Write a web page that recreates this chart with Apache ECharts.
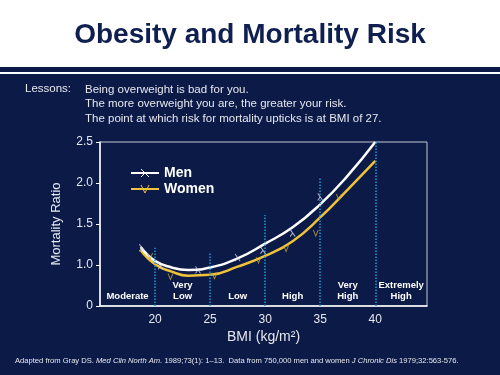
<!DOCTYPE html>
<html>
<head>
<meta charset="utf-8">
<script src="https://cdn.jsdelivr.net/npm/echarts@6/dist/echarts.min.js"></script>
<style>
html, body { margin: 0; padding: 0; background: #0b1a47; }
#main { width: 500px; height: 375px; }
</style>
</head>
<body>
<div id="main"></div>
<script>
// fitted curves (BMI -> mortality ratio)
const bmi = [18.7, 20, 21.5, 23, 25, 27.5, 30, 32.5, 35, 37.5, 40];
const men = [1.22, 1.05, 0.97, 0.94, 0.97, 1.08, 1.26, 1.46, 1.74, 2.09, 2.5];
const women = [1.18, 1.01, 0.92, 0.87, 0.88, 0.98, 1.11, 1.29, 1.58, 1.92, 2.27];

// observed points (small markers)
const menObsX = [18.8, 20.5, 23.9, 27.5, 29.8, 32.5, 35.0];
const menObsY = [1.21, 0.99, 0.94, 1.09, 1.18, 1.39, 1.83];
const womenObsX = [19.55, 21.4, 25.4, 29.4, 31.9, 34.6, 36.7];
const womenObsY = [1.11, 0.86, 0.87, 1.06, 1.20, 1.39, 1.83];

// risk bands
const bandEdges = [15, 20, 25, 30, 35, 40, 44.7];
const bandNames = ['Moderate', 'Very\nLow', 'Low', 'High', 'Very\nHigh', 'Extremely\nHigh'];
const cutoffs = [20, 25, 30, 35, 40];
const cutoffTops = [1.21, 1.15, 1.61, 2.06, 2.5];

const lessons = [
    'Being overweight is bad for you.',
    'The more overweight you are, the greater your risk.',
    'The point at which risk for mortality upticks is at BMI of 27.'
];

const NAVY = '#0b1a47';
const GOLD = '#f0c23a';
const CYAN = '#1c9ad8';
const FONT = '"Liberation Sans", Arial, sans-serif';

const lambdaPath = 'path://M0,0 L5,10 M2.5,5 L0,10';
const vPath = 'path://M0,0 L3,7 L6,0';

const myChart = echarts.init(document.getElementById('main'), null, { renderer: 'canvas' });

const option = {
    backgroundColor: NAVY,
    animation: false,
    textStyle: { fontFamily: FONT },
    graphic: [
        { type: 'rect', left: 0, top: 0, shape: { width: 500, height: 67 }, style: { fill: '#ffffff' }, z: -1 },
        { type: 'rect', left: 0, top: 72, shape: { width: 500, height: 2 }, style: { fill: '#ffffff' }, z: -1 },
        {
            type: 'text', left: 'center', top: 21,
            style: { text: 'Obesity and Mortality Risk', fill: '#0f1f4f', font: 'bold 28px ' + FONT }
        },
        {
            type: 'text', left: 25, top: 83,
            style: { text: 'Lessons:', fill: '#e6e8ee', font: '11.5px ' + FONT }
        },
        {
            type: 'text', left: 85, top: 82,
            style: { text: lessons.join('\n'), fill: '#e6e8ee', font: '11.5px ' + FONT, lineHeight: 14.7 }
        },
        {
            type: 'text', left: 15, top: 357,
            style: {
                text: '{n|Adapted from Gray DS. }{i|Med Clin North Am.}{n| 1989;73(1): 1\u201313.  Data from 750,000 men and women }{i|J Chronic Dis}{n| 1979;32:563-576.}',
                rich: {
                    n: { fill: '#e6e8ee', font: '7.6px ' + FONT },
                    i: { fill: '#e6e8ee', font: 'italic 7.6px ' + FONT }
                }
            }
        }
    ],
    legend: {
        data: [
            { name: 'Men', itemStyle: { color: 'none', borderColor: '#ffffff', borderWidth: 1 } },
            { name: 'Women', itemStyle: { color: 'none', borderColor: GOLD, borderWidth: 1 } }
        ],
        orient: 'vertical',
        left: 125,
        top: 161,
        itemWidth: 28,
        itemHeight: 10,
        itemGap: 2,
        textStyle: { color: '#ffffff', fontWeight: 'bold', fontSize: 14, fontFamily: FONT }
    },
    grid: {
        left: 100, right: 73, top: 142, bottom: 69,
        show: true, borderColor: '#c4c8d4', borderWidth: 1
    },
    xAxis: {
        type: 'value',
        min: 15, max: 44.7, interval: 5,
        name: 'BMI (kg/m\u00b2)',
        nameLocation: 'middle',
        nameGap: 24,
        nameTextStyle: { color: '#e6e8ee', fontSize: 14, fontFamily: FONT },
        axisLine: { show: true, lineStyle: { color: '#ffffff', width: 1.5 } },
        axisTick: { show: false },
        splitLine: { show: false },
        axisLabel: {
            color: '#e6e8ee', fontSize: 12, margin: 8,
            showMinLabel: false, showMaxLabel: false,
            formatter: v => (v >= 20 && v <= 40) ? String(v) : ''
        }
    },
    yAxis: {
        type: 'value',
        min: 0.5, max: 2.5, interval: 0.5,
        name: 'Mortality Ratio',
        nameLocation: 'middle',
        nameGap: 37,
        nameTextStyle: { color: '#e6e8ee', fontSize: 13, fontFamily: FONT },
        axisLine: { show: true, lineStyle: { color: '#ffffff', width: 1.5 } },
        axisTick: { show: true, length: 4, lineStyle: { color: '#ffffff' } },
        splitLine: { show: false },
        axisLabel: {
            color: '#e6e8ee', fontSize: 12, margin: 7,
            // broken axis: bottom of the frame stands for 0
            formatter: v => v === 0.5 ? '0' : v.toFixed(1)
        }
    },
    series: [
        {
            name: 'bands',
            type: 'line',
            data: [],
            silent: true,
            markArea: {
                silent: true,
                itemStyle: { color: 'transparent' },
                label: {
                    position: 'insideBottom', distance: 4,
                    color: '#ffffff', fontWeight: 'bold', fontSize: 9.5, lineHeight: 11,
                    fontFamily: FONT
                },
                data: bandNames.map((n, i) => [{ name: n, xAxis: bandEdges[i] }, { xAxis: bandEdges[i + 1] }])
            },
            markLine: {
                silent: true,
                symbol: 'none',
                label: { show: false },
                lineStyle: { color: CYAN, type: [1.5, 1.5], width: 1.5 },
                data: cutoffs.map((c, i) => [{ coord: [c, 0.5] }, { coord: [c, cutoffTops[i]] }])
            }
        },
        {
            name: 'Men',
            type: 'line',
            smooth: 0.5,
            showSymbol: false,
            symbol: lambdaPath,
            symbolSize: [6, 8],
            itemStyle: { color: '#ffffff' },
            lineStyle: { color: '#ffffff', width: 2.5 },
            data: bmi.map((x, i) => [x, men[i]]),
            z: 4
        },
        {
            name: 'Women',
            type: 'line',
            smooth: 0.5,
            showSymbol: false,
            symbol: vPath,
            symbolSize: [6, 7],
            itemStyle: { color: GOLD },
            lineStyle: { color: GOLD, width: 2.5 },
            data: bmi.map((x, i) => [x, women[i]]),
            z: 3
        },
        {
            name: 'Men obs',
            type: 'scatter',
            symbol: lambdaPath,
            symbolSize: [5, 7],
            itemStyle: { color: 'none', borderColor: '#d8dbe6', borderWidth: 1 },
            data: menObsX.map((x, i) => [x, menObsY[i]]),
            z: 5
        },
        {
            name: 'Women obs',
            type: 'scatter',
            symbol: vPath,
            symbolSize: [5, 6],
            itemStyle: { color: 'none', borderColor: '#c9a535', borderWidth: 1 },
            data: womenObsX.map((x, i) => [x, womenObsY[i]]),
            z: 5
        }
    ]
};

myChart.setOption(option);
</script>
</body>
</html>
